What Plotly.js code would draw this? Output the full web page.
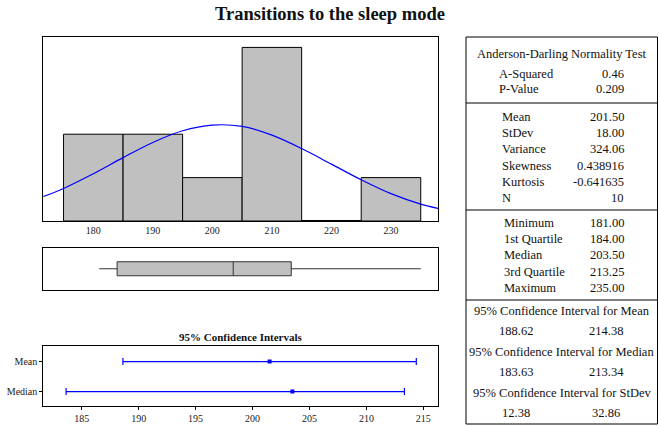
<!DOCTYPE html>
<html>
<head>
<meta charset="utf-8">
<script src="https://cdn.plot.ly/plotly-3.0.1.min.js"></script>
<style>html,body{margin:0;padding:0;background:#fff;}#chart{width:659px;height:426px;}</style>
</head>
<body>
<div id="chart"></div>
<script>
// ---- Data ----
const binCenters = [180, 190, 200, 210, 220, 230];
const binCounts = [2, 2, 1, 4, 0, 1];
const binWidth = 10;
const curveX = [170, 175, 180, 185, 190, 195, 200, 205, 210, 215, 220, 225, 230, 235, 240];
const curveY = [0.48, 0.75, 1.09, 1.46, 1.81, 2.08, 2.21, 2.18, 1.98, 1.67, 1.31, 0.95, 0.63, 0.39, 0.23];
const boxMin = 181.00, boxQ1 = 184.00, boxMedian = 203.50, boxQ3 = 213.25, boxMax = 235.00;
const ciNames = ['Mean', 'Median'];
const ciCenters = [201.50, 203.50];
const ciLower = [188.62, 183.63];
const ciUpper = [214.38, 213.34];

const adTitle = 'Anderson-Darling Normality Test';
const adLabels = ['A-Squared', 'P-Value'];
const adValues = ['0.46', '0.209'];
const descLabels = ['Mean', 'StDev', 'Variance', 'Skewness', 'Kurtosis', 'N'];
const descValues = ['201.50', '18.00', '324.06', '0.438916', '-0.641635', '10'];
const quartLabels = ['Minimum', '1st Quartile', 'Median', '3rd Quartile', 'Maximum'];
const quartValues = ['181.00', '184.00', '203.50', '213.25', '235.00'];
const ciHeaders = ['95% Confidence Interval for Mean', '95% Confidence Interval for Median', '95% Confidence Interval for StDev'];
const ciLowText = ['188.62', '183.63', '12.38'];
const ciHighText = ['214.38', '213.34', '32.86'];

// ---- Geometry helpers ----
const W = 659, H = 426;
const px = x => x / W;
const py = y => 1 - y / H;
const FONT = 'Liberation Serif, Times New Roman, serif';

// outline segments for empty bins (drawn as a line along the baseline)
const emptyX = [], emptyY = [];
binCenters.forEach((c, i) => {
  if (binCounts[i] === 0) { emptyX.push(c - binWidth / 2, c + binWidth / 2, null); emptyY.push(0, 0, null); }
});

const traces = [
  {type: 'bar', x: binCenters, y: binCounts, width: binWidth, xaxis: 'x', yaxis: 'y',
   marker: {color: '#c0c0c0', line: {color: '#000', width: 1}}, hoverinfo: 'skip'},
  {type: 'scatter', mode: 'lines', x: emptyX, y: emptyY, xaxis: 'x', yaxis: 'y', cliponaxis: false,
   line: {color: '#000', width: 2}, hoverinfo: 'skip'},
  {type: 'scatter', mode: 'lines', x: curveX, y: curveY, xaxis: 'x', yaxis: 'y',
   line: {color: '#0000ff', width: 1.2, shape: 'spline'}, hoverinfo: 'skip'},
  {type: 'box', orientation: 'h', y: [0], q1: [boxQ1], median: [boxMedian], q3: [boxQ3],
   lowerfence: [boxMin], upperfence: [boxMax], xaxis: 'x2', yaxis: 'y2',
   width: 0.33, whiskerwidth: 0, fillcolor: '#c0c0c0', line: {color: '#333', width: 1}, hoverinfo: 'skip'},
  {type: 'scatter', mode: 'markers', x: ciCenters, y: ciNames, xaxis: 'x3', yaxis: 'y3',
   marker: {color: '#0000ff', size: 4, symbol: 'square'},
   error_x: {type: 'data', symmetric: false,
     array: ciUpper.map((u, i) => u - ciCenters[i]),
     arrayminus: ciLower.map((l, i) => ciCenters[i] - l),
     color: '#0000ff', thickness: 1.2, width: 3.5}, hoverinfo: 'skip'}
];

const xdom = [px(43.3), px(438)];
const axisBase = {showline: true, mirror: true, linecolor: '#000', linewidth: 1, showgrid: false, zeroline: false,
  tickfont: {family: FONT, size: 10, color: '#222'}};

const annotations = [];
const shapes = [];
function txt(text, x, y, anchor, size, bold) {
  annotations.push({text: bold ? '<b>' + text + '</b>' : text, x: px(x), y: py(y), xref: 'paper', yref: 'paper',
    xanchor: anchor, yanchor: 'middle', showarrow: false, font: {family: FONT, size: size, color: '#111'}});
}
function hline(y) {
  shapes.push({type: 'line', xref: 'paper', yref: 'paper', x0: px(466), x1: px(657.5), y0: py(y), y1: py(y), line: {color: '#000', width: 1}});
}

// Titles
txt('Transitions to the sleep mode', 329.5, 14, 'center', 18.5, true);
txt('95% Confidence Intervals', 240.5, 337, 'center', 11, true);

// Table
shapes.push({type: 'rect', xref: 'paper', yref: 'paper', x0: px(466), x1: px(657.5), y0: py(37), y1: py(424), line: {color: '#000', width: 1}});
const TS = 12.5;
txt(adTitle, 561.5, 54, 'center', TS);
const adY = [74, 89];
adLabels.forEach((l, i) => { txt(l, 497, adY[i], 'left', TS); txt(adValues[i], 626, adY[i], 'right', TS); });
hline(103);
const descY = [117, 133, 149, 165.5, 181.5, 197.5];
descLabels.forEach((l, i) => { txt(l, 500, descY[i], 'left', TS); txt(descValues[i], 626, descY[i], 'right', TS); });
hline(210);
const quartY = [223, 239, 255, 271.5, 288];
quartLabels.forEach((l, i) => { txt(l, 502, quartY[i], 'left', TS); txt(quartValues[i], 626, quartY[i], 'right', TS); });
hline(300);
const ciHeadY = [311, 352, 393];
const ciValY = [331, 372, 413];
ciHeaders.forEach((h, i) => {
  txt(h, 561.5, ciHeadY[i], 'center', TS);
  txt(ciLowText[i], 516, ciValY[i], 'center', TS);
  txt(ciHighText[i], 606, ciValY[i], 'center', TS);
});

const layout = {
  width: W, height: H, margin: {l: 0, r: 0, t: 0, b: 0}, showlegend: false,
  paper_bgcolor: '#fff', plot_bgcolor: '#fff', bargap: 0,
  xaxis: Object.assign({}, axisBase, {domain: xdom, range: [171.6, 237.9], tickvals: [180, 190, 200, 210, 220, 230], ticks: '', anchor: 'y'}),
  yaxis: Object.assign({}, axisBase, {domain: [py(221), py(37)], range: [0, 4.24], showticklabels: false, ticks: '', anchor: 'x'}),
  xaxis2: Object.assign({}, axisBase, {domain: xdom, range: [171.6, 237.9], showticklabels: false, ticks: '', anchor: 'y2'}),
  yaxis2: Object.assign({}, axisBase, {domain: [py(290), py(247.5)], range: [-0.5, 0.5], showticklabels: false, ticks: '', anchor: 'x2'}),
  xaxis3: Object.assign({}, axisBase, {domain: [px(43.3), px(437.7)], range: [181.63, 216.26], dtick: 5, tick0: 185, ticks: 'outside', ticklen: 3, tickcolor: '#000', anchor: 'y3'}),
  yaxis3: Object.assign({}, axisBase, {domain: [py(406), py(346)], type: 'category', categoryorder: 'array', categoryarray: ['Median', 'Mean'], range: [-0.48, 1.52], ticks: 'outside', ticklen: 3, tickcolor: '#000', anchor: 'x3'}),
  annotations: annotations,
  shapes: shapes
};

Plotly.newPlot('chart', traces, layout, {staticPlot: true, displayModeBar: false});
</script>
</body>
</html>
